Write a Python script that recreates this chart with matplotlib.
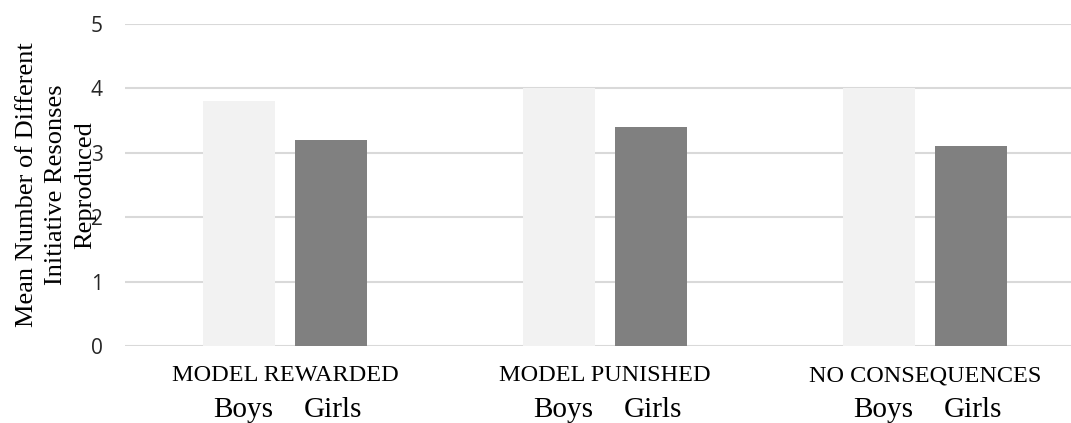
import matplotlib
matplotlib.use("Agg")
from matplotlib import pyplot as plt
import numpy as np

# mean number of different imitative responses, per condition
conditions = ["MODEL REWARDED", "MODEL PUNISHED", "NO CONSEQUENCES"]
boys = [3.8, 4.0, 4.0]
girls = [3.2, 3.4, 3.1]
sexes = ["Boys", "Girls"]
yticks = [0, 1, 2, 3, 4, 5]

fig = plt.figure(figsize=(10.71, 4.23), dpi=100)
ax = fig.add_axes([125 / 1071, 77 / 423, 960 / 1071, 322 / 423])

x = np.arange(len(conditions))
w = 0.225
off = 0.144
ax.bar(x - off, boys, w, color="#F2F2F2", zorder=2)
ax.bar(x + off, girls, w, color="#808080", zorder=2)

ax.set_xlim(-0.5, len(conditions) - 0.5)
ax.set_ylim(0, 5)
ax.set_yticks(yticks)
ax.set_yticklabels([str(t) for t in yticks], family="Open Sans", fontsize=15, color="#262626")
ax.tick_params(axis="y", length=0, pad=16)
ax.set_xticks([])
ax.grid(axis="y", color="#D9D9D9", linewidth=1.5, zorder=0)
for s in ax.spines.values():
    s.set_visible(False)

# category names and Boys / Girls under each pair
tr = ax.get_xaxis_transform()
for i, name in enumerate(conditions):
    ax.text(i, -0.109, name, transform=tr, ha="center", va="baseline",
            family="Liberation Serif", fontsize=17.5)
    ax.text(i - 0.13, -0.222, sexes[0], transform=tr, ha="center", va="baseline",
            family="Liberation Serif", fontsize=21)
    ax.text(i + 0.15, -0.222, sexes[1], transform=tr, ha="center", va="baseline",
            family="Liberation Serif", fontsize=21)

fig.text(56 / 1071, 1 - 185 / 423,
         "Mean Number of Different\nInitiative Resonses\nReproduced",
         rotation=90, ha="center", va="center", multialignment="center",
         family="Liberation Serif", fontsize=19, linespacing=1.4)

fig.savefig("out.png", dpi=100)
